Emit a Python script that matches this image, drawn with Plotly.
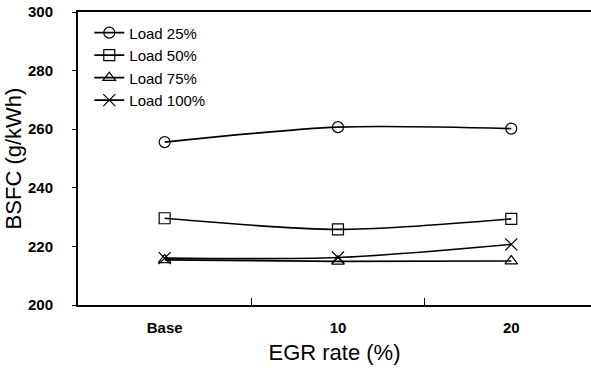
import plotly.graph_objects as go

categories = ["Base", "10", "20"]
load25 = [255.6, 260.7, 260.2]
load50 = [229.6, 225.8, 229.4]
load75 = [215.4, 214.9, 215.0]
load100 = [216.0, 216.2, 220.7]
series_names = ["Load 25%", "Load 50%", "Load 75%", "Load 100%"]
y_ticks = [200, 220, 240, 260, 280, 300]

symbols = ["circle-open", "square-open", "triangle-up-open", "x-thin-open"]
data = [load25, load50, load75, load100]

fig = go.Figure()
for name, vals, sym in zip(series_names, data, symbols):
    fig.add_trace(go.Scatter(
        x=categories, y=vals, name=name, mode="lines+markers",
        line=dict(color="black", width=1.6, shape="spline", smoothing=0.8),
        marker=dict(symbol=sym, size=11 if sym != "x-thin-open" else 12,
                    color="black", line=dict(color="black", width=1.2)),
    ))

fig.update_layout(
    width=591, height=374,
    margin=dict(l=78, r=0, t=12, b=69, autoexpand=False),
    plot_bgcolor="white", paper_bgcolor="white",
    font=dict(family="Liberation Sans, Arial, sans-serif", color="black"),
    showlegend=True,
    legend=dict(x=0.022, y=0.985, xanchor="left", yanchor="top",
                bgcolor="rgba(0,0,0,0)", font=dict(size=15),
                tracegroupgap=0, itemwidth=30),
    xaxis=dict(
        type="category", range=[-0.5, 2.46],
        showline=True, linecolor="black", linewidth=2, mirror=True,
        ticks="inside", tickson="boundaries", ticklen=7, tickcolor="black",
        tickwidth=1, showgrid=False, zeroline=False, ticklabelstandoff=8,
        tickfont=dict(size=15, family="Liberation Sans, Arial", weight="bold"),
        title=dict(text="EGR rate (%)", font=dict(size=22), standoff=10),
        automargin=False,
    ),
    yaxis=dict(
        range=[200, 300], tickvals=y_ticks,
        showline=True, linecolor="black", linewidth=2,
        ticks="outside", ticklen=4, tickcolor="black", tickwidth=1,
        showgrid=False, zeroline=False, ticklabelstandoff=16,
        tickfont=dict(size=15, family="Liberation Sans, Arial", weight="bold"),
        title=dict(text="BSFC (g/kWh)", font=dict(size=22), standoff=0),
        automargin=False,
    ),
)

fig.write_html(
    "out.html",
    config={"displayModeBar": False, "staticPlot": True},
    post_script="document.body.style.margin='0';document.body.style.overflow='hidden';",
)
